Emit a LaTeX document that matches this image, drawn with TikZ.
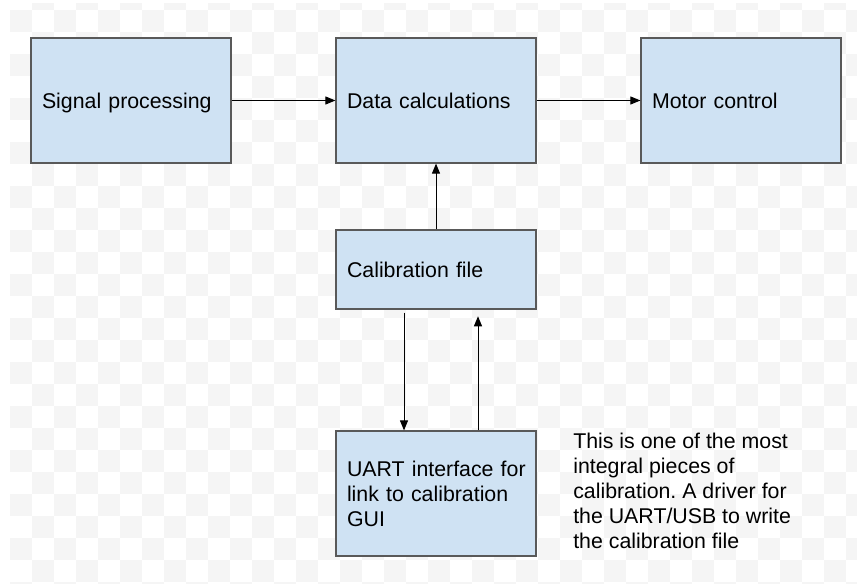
\documentclass[tikz,border=0pt]{standalone}
\usepackage{fontspec}
\setmainfont{Liberation Sans}
\usetikzlibrary{arrows.meta}
\frenchspacing
\definecolor{boxfill}{HTML}{CFE2F3}
\definecolor{boxline}{HTML}{595959}
\definecolor{checker}{HTML}{F5F5F5}
\begin{document}
\begin{tikzpicture}[x=0.75pt,y=-0.75pt,
  box/.style={draw=boxline, line width=0.9pt, fill=boxfill,
    minimum width=150pt, minimum height=93.75pt, text width=133.5pt,
    inner xsep=8.25pt, inner ysep=0pt, align=left,
    font=\fontsize{16}{18.75}\selectfont},
  conn/.style={-{Triangle[length=7.5pt,width=6pt]}, line width=0.75pt, black}]
\useasboundingbox (0,0) rectangle (857,584);
\fill[white] (0,0) rectangle (857,584);
\begin{scope}
  \clip (10,4) rectangle (857,583);
  \foreach \i in {0,...,38} {
    \foreach \j in {0,...,27} {
      \pgfmathtruncatemacro\oddcell{mod(\i+\j,2)}
      \ifnum\oddcell=1
        \fill[checker] (10+22*\i,-12.3+22*\j) rectangle ++(22,22);
      \fi
    }
  }
\end{scope}
\node[box, text depth=0pt] (sp) at (131,100.5) {Signal processing};
\node[box] (dc) at (436,100.5) {Data calculations};
\node[box] (mc) at (741,100.5) {Motor control};
\node[box, minimum height=59.25pt] (cal) at (436,269.5) {Calibration file};
\node[box] (uart) at (436,493.5) {\mbox{UART interface for}\\\mbox{link to calibration}\\GUI};
\node[anchor=west, align=left, inner sep=0pt, font=\fontsize{16}{18.75}\selectfont] (note) at (573,491)
  {This is one of the most\\integral pieces of\\calibration. A driver for\\the UART/USB to write\\the calibration file};
\draw[conn] (sp.east) -- (dc.west);
\draw[conn] (dc.east) -- (mc.west);
\draw[conn] (cal.north) -- (dc.south);
\coordinate (dstart) at ([xshift=-24pt,yshift=-2.25pt]cal.south);
\coordinate (uend) at ([xshift=31.5pt,yshift=-5pt]cal.south);
\draw[conn] (dstart) -- (dstart |- uart.north);
\draw[conn] (uend |- uart.north) -- (uend);
\end{tikzpicture}
\end{document}
